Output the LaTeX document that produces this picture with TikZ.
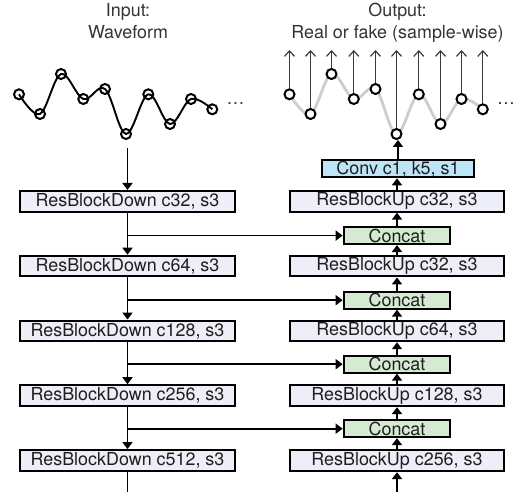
\documentclass[tikz,border=0pt]{standalone}
\usepackage{fontspec}
\setmainfont{TeX Gyre Heros}
\usetikzlibrary{arrows.meta}
\definecolor{blockfill}{HTML}{EEEEF8}
\definecolor{catfill}{HTML}{D4EBD2}
\definecolor{convfill}{HTML}{BEE5F5}
\definecolor{txt}{HTML}{1E1E1E}
\definecolor{titletxt}{HTML}{333333}
\definecolor{wavegray}{HTML}{CDCDCD}
\definecolor{outline}{HTML}{3A3A3A}
\begin{document}
\begin{tikzpicture}[x=1pt,y=-1pt,
  lbl/.style={font=\fontsize{17.9}{21.7}\selectfont},
  blk/.style={lbl, draw=black, line width=2pt, fill=blockfill, inner sep=0pt, text=txt, minimum height=20.7pt},
  downblk/.style={blk, minimum width=215pt},
  upblk/.style={blk, minimum width=214.7pt},
  catblk/.style={blk, fill=catfill, minimum width=106.7pt, minimum height=17pt},
  convblk/.style={blk, fill=convfill, minimum width=152pt, minimum height=17.3pt},
  mainarr/.style={line width=1.8pt, -{Triangle[width=10pt,length=7pt]}},
  plainline/.style={line width=1.8pt},
  outarr/.style={line width=1.2pt, draw=outline, -{Straight Barb[width=10pt,length=5.5pt,line width=1.2pt]}},
  sample/.style={circle, draw=black, line width=2pt, minimum size=10pt, inner sep=0pt},
  outsample/.style={sample, fill=white},
  ttl/.style={lbl, align=center, text=titletxt, inner sep=0pt},
  more/.style={lbl, text=titletxt, inner sep=0pt, anchor=base west}
]
\useasboundingbox (0,0) rectangle (515,492);

% titles
\node[ttl] (intitle) at (128,21.3) {Input:\\Waveform};
\node[ttl] (outtitle) at (397.5,23.1) {Output:\\Real or fake (sample-wise)};

% waveform sample positions
\foreach \i/\x/\y in {1/19/94.3,2/40/114,3/61/74,4/83.3/99,5/105/89,6/126/134,7/148.3/94.3,8/170/124,9/191/99,10/212.3/109.3}{
  \coordinate (lp\i) at (\x,\y);
  \coordinate (rp\i) at (\x+270.5,\y);
}
\draw[line width=1.9pt, black] plot[smooth, tension=0.6] coordinates {(lp1) (lp2) (lp3) (lp4) (lp5) (lp6) (lp7) (lp8) (lp9) (lp10)};
\draw[line width=2.8pt, wavegray] plot[smooth, tension=0.6] coordinates {(rp1) (rp2) (rp3) (rp4) (rp5) (rp6) (rp7) (rp8) (rp9) (rp10)};
\foreach \i in {1,...,10}{
  \node[sample] (l\i) at (lp\i) {};
  \node[outsample] (r\i) at (rp\i) {};
}
\node[more] (ldots) at (226.5,105) {\ldots};
\node[more] (rdots) at (497,105) {\ldots};

% output arrows
\coordinate (outtop) at (0,50);
\foreach \i in {1,...,10}{
  \draw[outarr] (r\i.north) -- (r\i.north |- outtop);
}

% encoder
\node[downblk] (d1) at (127.5,201.3) {ResBlockDown c32, s3};
\node[downblk] (d2) at (127.5,266.1) {ResBlockDown c64, s3};
\node[downblk] (d3) at (127.5,330.9) {ResBlockDown c128, s3};
\node[downblk] (d4) at (127.5,395.6) {ResBlockDown c256, s3};
\node[downblk] (d5) at (127.5,460.4) {ResBlockDown c512, s3};

% decoder
\node[convblk] (conv) at (398,168.7) {Conv c1, k5, s1};
\node[upblk] (u1) at (397,201.3) {ResBlockUp c32, s3};
\node[catblk] (c1) at (397,235.6) {Concat};
\node[upblk] (u2) at (397,266.1) {ResBlockUp c32, s3};
\node[catblk] (c2) at (397,300.2) {Concat};
\node[upblk] (u3) at (397,330.9) {ResBlockUp c64, s3};
\node[catblk] (c3) at (397,364.2) {Concat};
\node[upblk] (u4) at (397,395.8) {ResBlockUp c128, s3};
\node[catblk] (c4) at (397,428.7) {Concat};
\node[upblk] (u5) at (397,460.8) {ResBlockUp c256, s3};

% encoder connectors
\coordinate (instart) at (127.5,148);
\coordinate (lbottom) at (127.5,492);
\coordinate (rbottom) at (397,492);
\draw[mainarr] (instart) -- (d1.north);
\draw[mainarr] (d1) -- (d2);
\draw[mainarr] (d2) -- (d3);
\draw[mainarr] (d3) -- (d4);
\draw[mainarr] (d4) -- (d5);
\draw[plainline] (d5.south) -- (lbottom);

% skip connections
\foreach \k in {1,2,3,4}{
  \coordinate (b\k) at (c\k.west -| d1.south);
  \draw[mainarr] (b\k) -- (c\k.west);
}

% decoder connectors
\draw[mainarr] (rbottom) -- (u5.south);
\draw[mainarr] (u5) -- (c4);
\draw[mainarr] (c4) -- (u4);
\draw[mainarr] (u4) -- (c3);
\draw[mainarr] (c3) -- (u3);
\draw[mainarr] (u3) -- (c2);
\draw[mainarr] (c2) -- (u2);
\draw[mainarr] (u2) -- (c1);
\draw[mainarr] (c1) -- (u1);
\draw[mainarr] (u1.north) -- (u1.north |- conv.south);
\draw[mainarr] (conv.north) -- (conv.north |- r6.south);
\end{tikzpicture}
\end{document}
